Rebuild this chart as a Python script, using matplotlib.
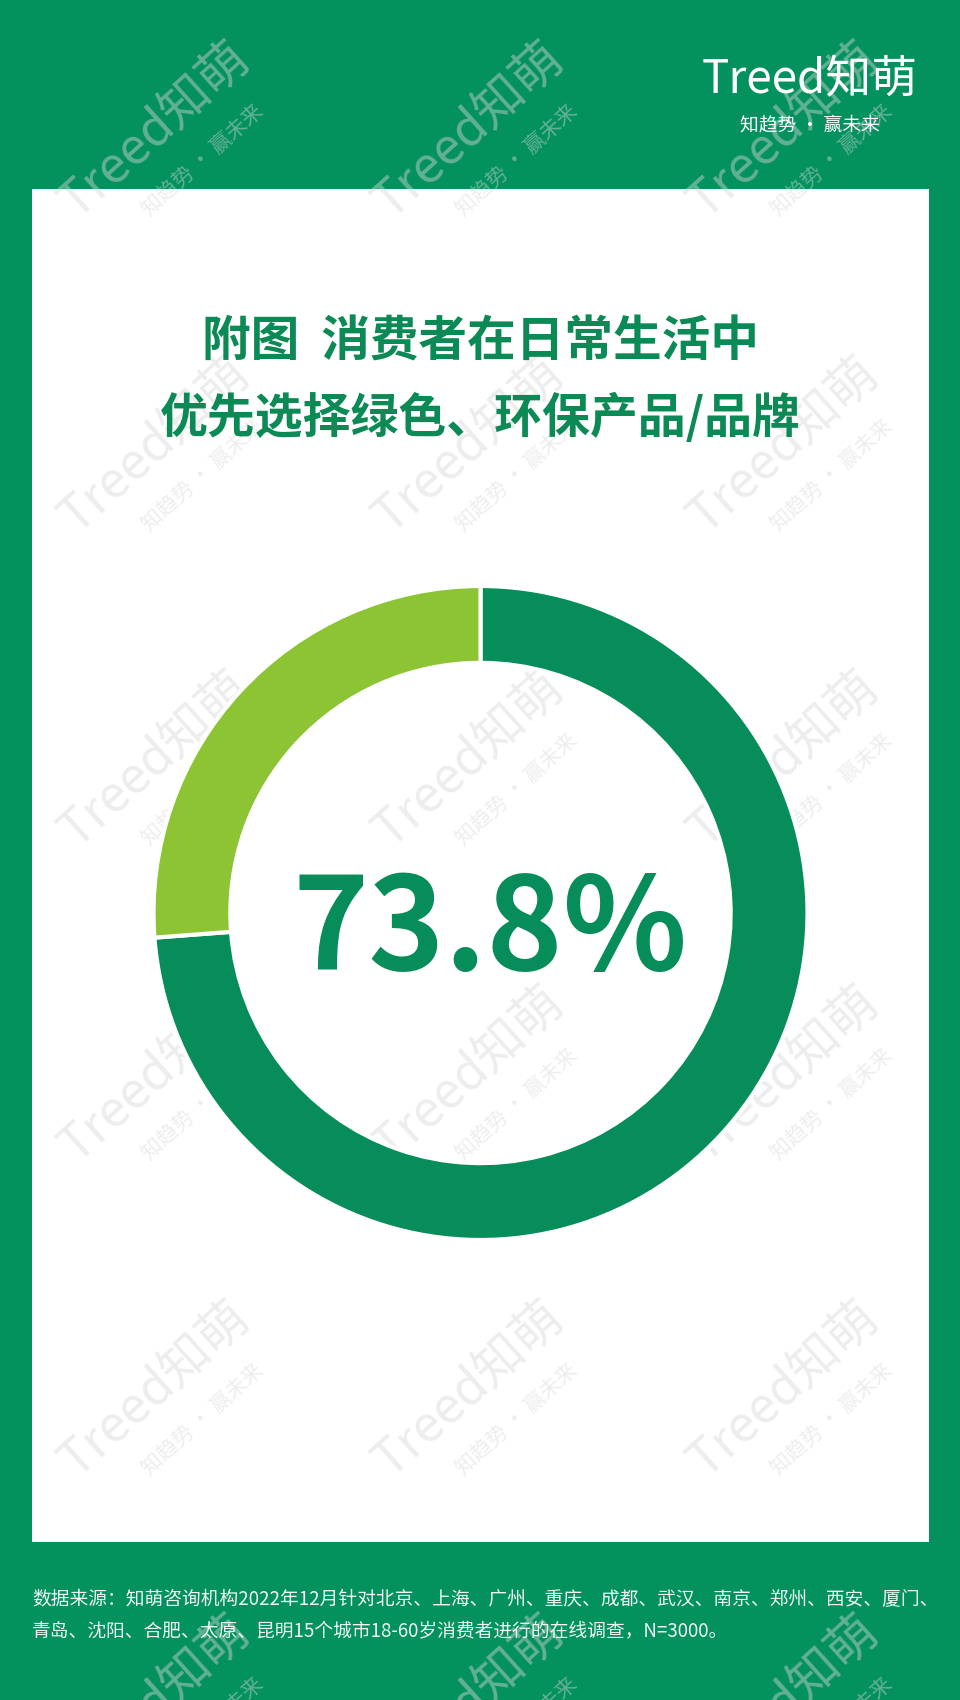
import matplotlib
matplotlib.use("Agg")
import matplotlib.pyplot as plt
from matplotlib.patches import Rectangle

plt.rcParams['font.family'] = ['Noto Sans CJK SC', 'DejaVu Sans']

# 数据
labels = ['优先选择', '其他']
values = [73.8, 26.2]
center_label = '73.8%'
title_lines = ['附图  消费者在日常生活中', '优先选择绿色、环保产品/品牌']
source_lines = ['数据来源：知萌咨询机构2022年12月针对北京、上海、广州、重庆、成都、武汉、南京、郑州、西安、厦门、',
                '青岛、沈阳、合肥、太原、昆明15个城市18-60岁消费者进行的在线调查，N=3000。']

BG_GREEN = '#03915d'
DARK = '#068d5a'
LIGHT = '#8dc433'
TITLE_C = '#0b8a55'

W, H = 960, 1700
fig = plt.figure(figsize=(W / 100, H / 100), dpi=100)
fig.patch.set_facecolor(BG_GREEN)

# 背景层 (像素坐标)
bg = fig.add_axes([0, 0, 1, 1])
bg.set_xlim(0, W)
bg.set_ylim(H, 0)
bg.axis('off')
bg.add_patch(Rectangle((32, 189), 897, 1353, facecolor='white', edgecolor='none'))

# 水印
for wy in [141, 456, 770, 1085, 1400, 1714]:
    for wx in [163, 477, 792]:
        bg.text(wx - 8, wy - 10, 'Treed知萌', fontsize=36, color='#d8d8d8', alpha=0.45,
                rotation=42, ha='center', va='center', rotation_mode='anchor', zorder=1)
        bg.text(wx + 40, wy + 20, '知趋势 · 赢未来', fontsize=15, color='#d8d8d8', alpha=0.45,
                rotation=42, ha='center', va='center', rotation_mode='anchor', zorder=1)

# logo
bg.text(810, 80, 'Treed知萌', fontsize=33, color='white', ha='center', va='center', zorder=5)
bg.text(810, 125, '知趋势 · 赢未来', fontsize=13.5, color='white', ha='center', va='center', zorder=5)

# 标题
bg.text(480, 342, title_lines[0], fontsize=35, color=TITLE_C, fontweight='bold',
        ha='center', va='center', zorder=5)
bg.text(480, 418, title_lines[1], fontsize=34.5, color=TITLE_C, fontweight='bold',
        ha='center', va='center', zorder=5)

# 数据来源
bg.text(32, 1600, source_lines[0], fontsize=13.5, color='#eef7f2', ha='left', va='center', zorder=5)
bg.text(32, 1631, source_lines[1], fontsize=13.5, color='#eef7f2', ha='left', va='center', zorder=5)

# 环形图
cx, cy, r = 480.5, 913, 327
ax = fig.add_axes([(cx - r) / W, 1 - (cy + r) / H, 2 * r / W, 2 * r / H])
ax.set_facecolor('none')
ax.pie(values, colors=[DARK, LIGHT], startangle=90, counterclock=False, radius=1,
       wedgeprops=dict(width=0.235, edgecolor='white', linewidth=3))
ax.set_xlim(-1, 1)
ax.set_ylim(-1, 1)
ax.set_aspect('equal')
ax.axis('off')
ax.text(0.03, -0.06, center_label, fontsize=93, fontweight='bold', color=DARK,
        ha='center', va='center')

fig.savefig('out.png', dpi=100, facecolor=fig.get_facecolor())
